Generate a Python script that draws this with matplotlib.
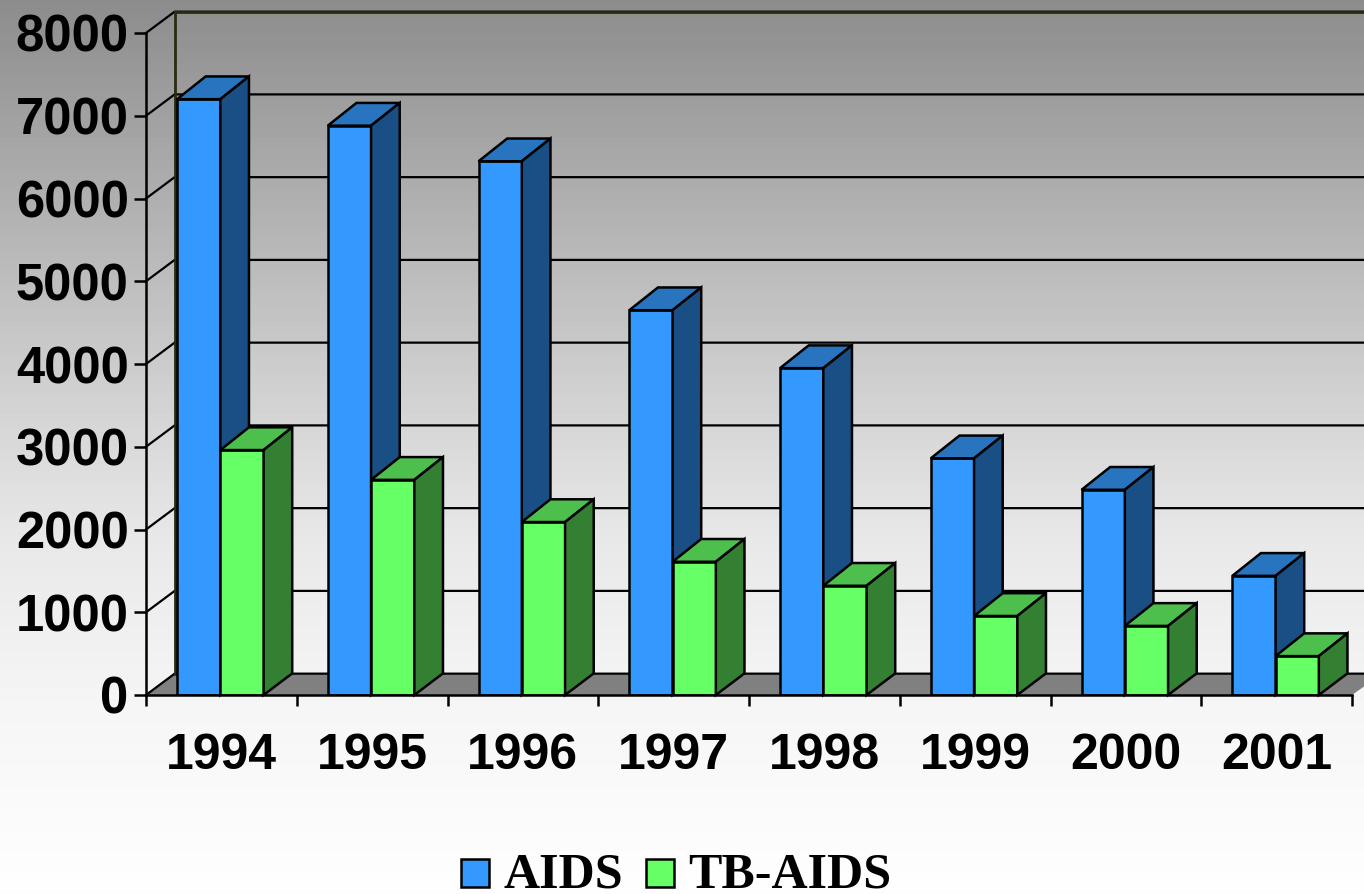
#!/usr/bin/env python

import numpy as np
import matplotlib
matplotlib.use("Agg")
import matplotlib.pyplot as plt
from matplotlib.patches import Polygon, Patch
from matplotlib.legend_handler import HandlerPatch

years = ["1994", "1995", "1996", "1997", "1998", "1999", "2000", "2001"]
aids = [7200, 6880, 6450, 4650, 3950, 2860, 2480, 1440]
tb_aids = [2960, 2600, 2090, 1610, 1320, 955, 835, 470]
yticks = [0, 1000, 2000, 3000, 4000, 5000, 6000, 7000, 8000]

# fake 3d depth, in data units
depth_x = 0.19
depth_y = 275
wall_y = 258
bar_w = 0.287
first_bar = 0.206
edge = 1.8

def draw_box(ax, x, value, front, top, side):
	ax.bar(x, value, bar_w, align="edge", color=front, edgecolor="black", linewidth=edge, zorder=3)
	x2 = x + bar_w
	ax.add_patch(Polygon([(x, value), (x + depth_x, value + depth_y), (x2 + depth_x, value + depth_y), (x2, value)],
		facecolor=top, edgecolor="black", linewidth=edge, clip_on=False, zorder=3))
	ax.add_patch(Polygon([(x2, 0), (x2 + depth_x, depth_y * 0.95), (x2 + depth_x, value + depth_y), (x2, value)],
		facecolor=side, edgecolor="black", linewidth=edge, clip_on=False, zorder=3))

def main():
	fig = plt.figure(figsize=(13.64, 8.94), dpi=100)

	# background gradient
	bg = fig.add_axes([0, 0, 1, 1], zorder=0)
	rows = np.arange(894)
	shade = np.interp(rows, [0, 140, 400, 540, 700, 893], [140, 165, 210, 232, 245, 254]) / 255
	bg.imshow(shade[:, None], cmap="gray", vmin=0, vmax=1, aspect="auto")
	bg.axis("off")

	ax = fig.add_axes([146 / 1364, 199 / 894, 1206 / 1364, 662 / 894], zorder=1)
	ax.patch.set_alpha(0)
	ax.set_xlim(0, 8)
	ax.set_ylim(0, 8000)

	# floor and back wall
	right = 8.2
	ax.add_patch(Polygon([(0, 0), (depth_x, wall_y), (right, wall_y), (8, 0)], facecolor="#808080",
		edgecolor="none", clip_on=False, zorder=1))
	for v in yticks:
		ax.plot([0, depth_x, right], [v, v + wall_y, v + wall_y], color="black", linewidth=1.6,
			clip_on=False, zorder=2, solid_joinstyle="miter")
	ax.plot([depth_x, depth_x], [wall_y, 8000 + wall_y], color="#2b2b10", linewidth=2, clip_on=False, zorder=2)
	ax.plot([depth_x, right], [8000 + wall_y, 8000 + wall_y], color="#2b2b10", linewidth=2, clip_on=False, zorder=2)

	for i in range(len(years)):
		x = i + first_bar
		draw_box(ax, x, aids[i], "#3399FF", "#2874BF", "#1A4F85")
		draw_box(ax, x + bar_w, tb_aids[i], "#66FF66", "#4DBF4D", "#338033")

	for name in ["top", "right"]:
		ax.spines[name].set_visible(False)
	for name in ["left", "bottom"]:
		ax.spines[name].set_linewidth(edge)
		ax.spines[name].set_zorder(4)

	ax.set_yticks(yticks)
	ax.set_yticklabels([str(v) for v in yticks], fontsize=36.5, fontweight="bold", family="Liberation Sans")
	ax.tick_params(axis="y", length=8.5, width=edge, pad=4)

	# ticks sit between the groups, labels in the middle of them
	ax.set_xticks(range(len(years) + 1))
	ax.set_xticklabels([])
	ax.tick_params(axis="x", length=8, width=edge)
	ax.set_xticks(np.arange(len(years)) + 0.5, minor=True)
	ax.set_xticklabels(years, minor=True, fontsize=36, fontweight="bold", family="Liberation Sans")
	ax.tick_params(axis="x", which="minor", length=0, pad=27.5)

	# handler with negative ypad pushes the swatch down onto the text baseline
	handles = [Patch(facecolor="#3399FF", edgecolor="black", linewidth=edge, label="AIDS"),
		Patch(facecolor="#66FF66", edgecolor="black", linewidth=edge, label="TB-AIDS")]
	fig.legend(handles=handles, loc="lower left", bbox_to_anchor=(461 / 1364, -4 / 894), ncols=2, frameon=False,
		borderpad=0, borderaxespad=0, handlelength=0.56, handleheight=0.233, handletextpad=0.3, columnspacing=0.44,
		handler_map={Patch: HandlerPatch(ypad=-0.163)},
		prop={"family": "Liberation Serif", "weight": "bold", "size": 36})

	fig.savefig("out.png", dpi=100)
	plt.close(fig)

if __name__ == '__main__':
	main()
